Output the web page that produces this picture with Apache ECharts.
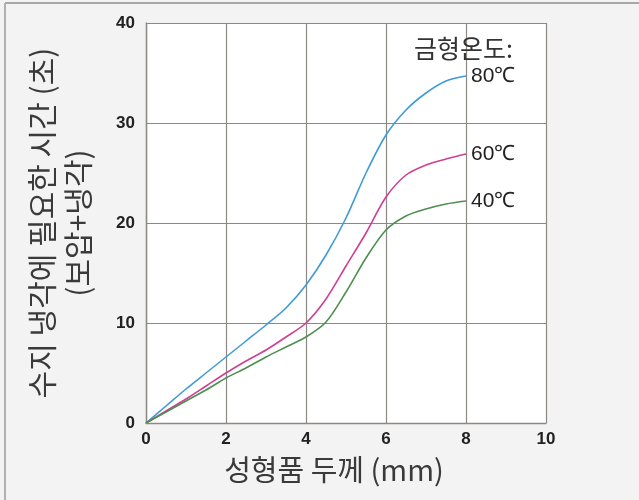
<!DOCTYPE html>
<html>
<head>
<meta charset="utf-8">
<script src="https://cdn.jsdelivr.net/npm/echarts@6/dist/echarts.min.js"></script>
<style>
html,body{margin:0;padding:0;background:#f3f3f3;}
#main{width:639px;height:500px;}
</style>
</head>
<body>
<div id="main"></div>
<script>
const thickness = [0, 0.5, 1, 1.5, 2, 2.5, 3, 3.5, 4, 4.5, 5, 5.5, 6, 6.5, 7, 7.5, 8];
const mold80 = [0, 1.7, 3.4, 5.0, 6.6, 8.2, 9.8, 11.5, 13.8, 16.8, 20.5, 25.0, 28.8, 31.3, 33.0, 34.2, 34.7];
const mold60 = [0, 1.2, 2.4, 3.7, 5.0, 6.2, 7.3, 8.6, 10.0, 12.4, 15.7, 19.0, 22.6, 24.8, 25.8, 26.4, 26.9];
const mold40 = [0, 1.1, 2.2, 3.3, 4.5, 5.5, 6.6, 7.6, 8.6, 10.1, 13.1, 16.5, 19.3, 20.7, 21.4, 21.9, 22.2];
const seriesNames = ['80℃', '60℃', '40℃'];
const legendTitle = '금형온도:';
const xTitle = '성형품 두께 (mm)';
const yTitle = '수지 냉각에 필요한 시간 (초)\n(보압+냉각)';

const pairs = vals => thickness.map((x, i) => [x, vals[i]]);
const tickFont = {fontFamily: '"Liberation Sans Narrow", "Liberation Sans", Arial, sans-serif', fontWeight: 'bold', fontSize: 17, color: '#222'};
const krFont = '"Noto Sans CJK KR", "Noto Sans", sans-serif';
const gridColor = '#8d8884';

function mkSeries(name, vals, color) {
  return {
    name: name, type: 'line', data: pairs(vals), smooth: 0.3,
    showSymbol: false, symbol: 'none',
    lineStyle: {color: color, width: 1.6},
    itemStyle: {color: color},
    endLabel: {show: true, formatter: name, distance: 5, color: '#222',
      fontFamily: '"Liberation Sans Narrow", "Liberation Sans", sans-serif', fontSize: 21},
    animation: false
  };
}

const chart = echarts.init(document.getElementById('main'));
chart.setOption({
  backgroundColor: '#f3f3f3',
  animation: false,
  title: {text: legendTitle, right: 121, top: 31,
    textStyle: {fontFamily: krFont, fontSize: 25, fontWeight: 'normal', color: '#333'}},
  grid: {left: 146, right: 93, top: 23, bottom: 77, show: true, backgroundColor: '#fff', borderWidth: 0},
  xAxis: {
    type: 'value', min: 0, max: 10, interval: 2,
    name: xTitle, nameLocation: 'middle', nameGap: 32,
    nameTextStyle: {fontFamily: krFont, fontSize: 29, color: '#3a3a3a', padding: [0, 24, 0, 0]},
    axisLine: {lineStyle: {color: gridColor, width: 1.4}},
    axisTick: {show: false},
    axisLabel: Object.assign({margin: 8}, tickFont),
    splitLine: {show: true, lineStyle: {color: gridColor, width: 1.2}}
  },
  yAxis: {
    type: 'value', min: 0, max: 40, interval: 10,
    name: yTitle, nameLocation: 'middle', nameGap: 50, nameRotate: 90,
    nameTextStyle: {fontFamily: krFont, fontSize: 30, color: '#3a3a3a', lineHeight: 36},
    axisLine: {show: true, lineStyle: {color: gridColor, width: 1.4}},
    axisTick: {show: false},
    axisLabel: Object.assign({margin: 11}, tickFont),
    splitLine: {show: true, lineStyle: {color: gridColor, width: 1.2}}
  },
  graphic: [
    {type: 'line', shape: {x1: 5, y1: 3, x2: 639, y2: 3}, style: {stroke: '#a8a8a8', lineWidth: 2}, silent: true},
    {type: 'line', shape: {x1: 5, y1: 3, x2: 5, y2: 500}, style: {stroke: '#b0b0b0', lineWidth: 2}, silent: true}
  ],
  series: [
    mkSeries(seriesNames[0], mold80, '#3f9bd8'),
    mkSeries(seriesNames[1], mold60, '#cf3f93'),
    mkSeries(seriesNames[2], mold40, '#4e8f50')
  ]
});
</script>
</body>
</html>
